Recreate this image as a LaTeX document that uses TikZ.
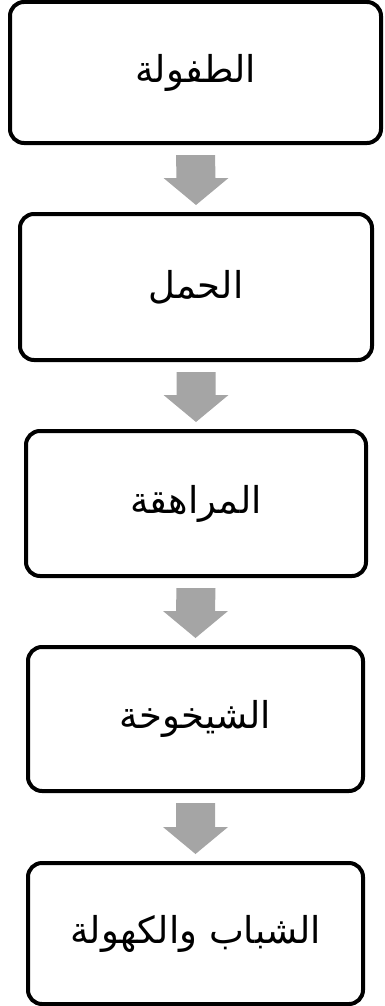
\documentclass[tikz,border=0pt]{standalone}
\usepackage{fontspec}
\newfontfamily\arabicfont[Script=Arabic]{DejaVu Sans}
\TeXXeTstate=1
\usetikzlibrary{calc}
\definecolor{arrowgray}{RGB}{165,165,165}
\tikzset{
  stagebox/.style={draw=black, line width=4pt, rounded corners=14pt, fill=white,
    font=\arabicfont\fontsize{37}{42}\selectfont, inner sep=0pt},
  blockarr/.style={fill=arrowgray, draw=none}
}
\newcommand{\stagetext}[1]{\raisebox{-5pt}{\beginR #1\endR}}
\newcommand{\blockarrow}[2]{%
  \fill[blockarr] ([xshift=-19.5pt,yshift=-10pt]#1.south) -- ([xshift=19.5pt,yshift=-10pt]#1.south)
    -- ([xshift=19.5pt,yshift=34pt]#2.north) -- ([xshift=32.5pt,yshift=34pt]#2.north)
    -- ([yshift=7pt]#2.north) -- ([xshift=-32.5pt,yshift=34pt]#2.north)
    -- ([xshift=-19.5pt,yshift=34pt]#2.north) -- cycle;}
\begin{document}
\begin{tikzpicture}[x=1pt,y=1pt]
\useasboundingbox (0,0) rectangle (385,-1006);
\node[stagebox, minimum width=371pt, minimum height=141pt] (b1) at (195.5,-72.5) {\stagetext{الطفولة}};
\node[stagebox, minimum width=352pt, minimum height=146pt] (b2) at (196,-287) {\stagetext{الحمل}};
\node[stagebox, minimum width=340pt, minimum height=145pt] (b3) at (196,-503.5) {\stagetext{المراهقة}};
\node[stagebox, minimum width=335pt, minimum height=144pt] (b4) at (195.5,-719) {\stagetext{الشيخوخة}};
\node[stagebox, minimum width=335pt, minimum height=141pt] (b5) at (195.5,-933.5) {\stagetext{الشباب والكهولة}};
\blockarrow{b1}{b2}
\blockarrow{b2}{b3}
\blockarrow{b3}{b4}
\blockarrow{b4}{b5}
\end{tikzpicture}
\end{document}
